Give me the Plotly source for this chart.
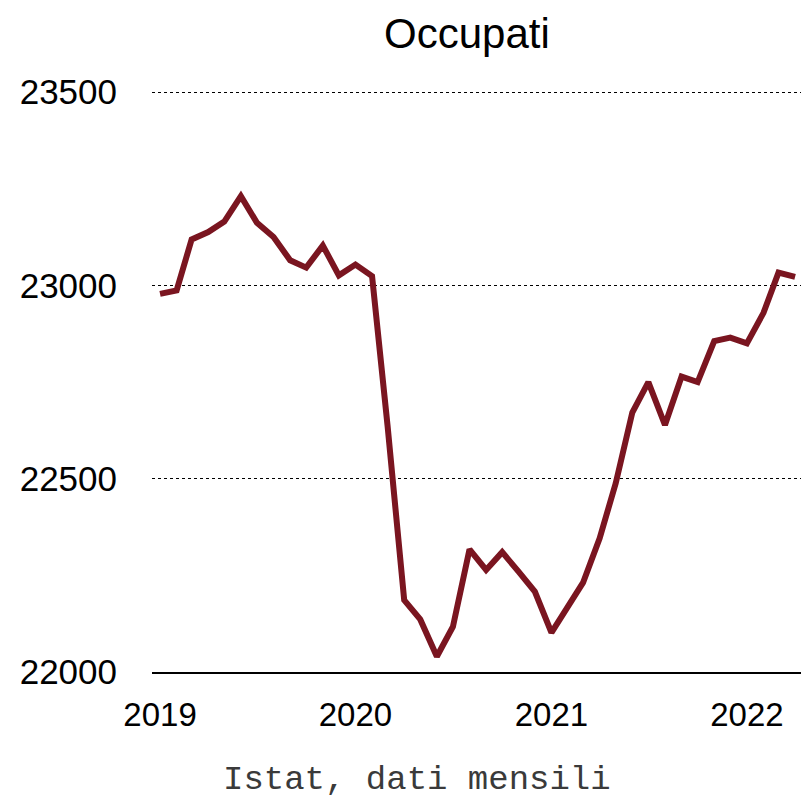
import plotly.graph_objects as go

# monthly data, Jan 2019 - Apr 2022 (thousands)
months = [f"{y}-{m:02d}-01" for y in range(2019, 2023) for m in range(1, 13)][:40]
occupati = [
    22978, 22987, 23119, 23138, 23165, 23231, 23162, 23125, 23065, 23046, 23103, 23026,
    23054, 23024, 22636, 22186, 22136, 22040, 22117, 22317, 22264, 22310, 22259, 22208,
    22102, 22169, 22231, 22346, 22488, 22671, 22750, 22639, 22764, 22750, 22856, 22865,
    22850, 22929, 23033, 23022,
]
year_ticks = ["2019-01-01", "2020-01-01", "2021-01-01", "2022-01-01"]
year_labels = ["2019", "2020", "2021", "2022"]
y_ticks = [22000, 22500, 23000, 23500]
y_labels = ["22000", "22500", "23000", "23500"]

LINE = "#7A1520"
SANS = "Liberation Sans, Arial, sans-serif"
MONO = "Liberation Mono, Courier New, monospace"

# page body has an 8px margin, so the figure is 8px smaller than the window
fig = go.Figure()
fig.add_trace(go.Scatter(x=months, y=occupati, mode="lines",
                         line=dict(color=LINE, width=6), hoverinfo="x+y"))

fig.update_layout(
    width=801, height=793,
    margin=dict(l=144, r=0, t=64, b=129),
    paper_bgcolor="white", plot_bgcolor="white",
    showlegend=False,
    font=dict(family=SANS, size=33, color="black"),
    xaxis=dict(
        type="date", range=["2018-12-17", "2022-04-27"],
        tickvals=year_ticks, ticktext=year_labels,
        showgrid=False, zeroline=False, automargin=False,
        showline=True, linecolor="black", linewidth=2,
        ticks="", ticklabelstandoff=12,
        tickfont=dict(family=SANS, size=33),
    ),
    yaxis=dict(
        range=[22000, 23552], tickvals=y_ticks, ticktext=y_labels,
        showgrid=True, gridcolor="black", gridwidth=1.2, griddash="dot",
        zeroline=False, showline=False, ticks="", automargin=False,
        ticklabelstandoff=34,
        tickfont=dict(family=SANS, size=35),
    ),
    annotations=[
        dict(text="Occupati", xref="paper", yref="paper", x=0.479, y=1.064,
             xanchor="center", yanchor="middle", showarrow=False,
             font=dict(family=SANS, size=42, color="black")),
        dict(text="Istat, dati mensili", xref="paper", yref="paper", x=0.404, y=-0.213,
             xanchor="center", yanchor="bottom", showarrow=False, borderpad=0,
             font=dict(family=MONO, size=34, color="#3a3a3a")),
    ],
)

fig.write_html("out.html")
